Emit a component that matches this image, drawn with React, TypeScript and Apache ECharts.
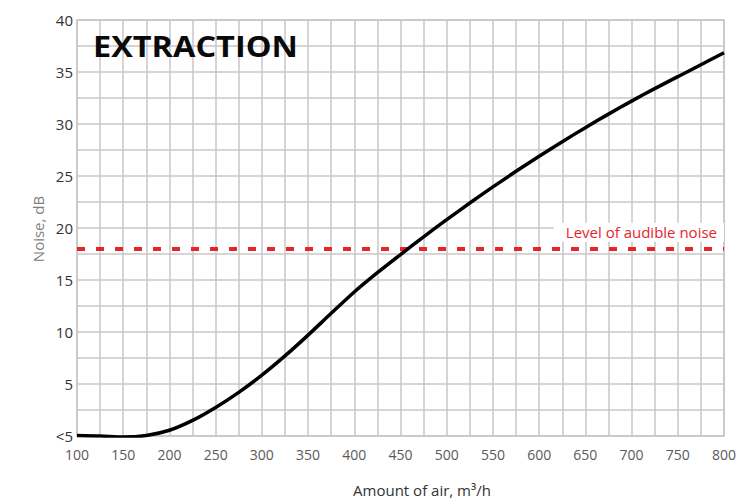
import React, { useEffect, useRef } from "react";
import * as echarts from "echarts";

const airflow = [100, 125, 150, 175, 200, 225, 250, 275, 300, 325, 350, 375, 400, 425, 450, 475, 500, 525, 550, 575, 600, 625, 650, 675, 700, 725, 750, 775, 800];
const noise = [0.05, 0, -0.1, 0.05, 0.55, 1.5, 2.75, 4.2, 5.85, 7.7, 9.7, 11.8, 13.85, 15.7, 17.45, 19.15, 20.8, 22.4, 23.95, 25.45, 26.9, 28.3, 29.65, 30.95, 32.2, 33.4, 34.55, 35.7, 36.85];
const audibleLevel = 18;
const audibleLabel = "Level of audible noise";
const title = "EXTRACTION";
const xName = "Amount of air, m³/h";
const yName = "Noise, dB";
const bottomLabel = "<5";

const FONT = "'Open Sans', 'Noto Sans', sans-serif";
const GRID = "#c9c6c6";
const RED = "#e52629";

export default function App() {
  const ref = useRef<HTMLDivElement>(null);
  useEffect(() => {
    if (!ref.current) return;
    const chart = echarts.init(ref.current, undefined, { renderer: "svg" });
    const curve = airflow.map((x, i) => [x, noise[i]]);
    chart.setOption({
      animation: false,
      backgroundColor: "#fff",
      textStyle: { fontFamily: FONT },
      grid: {
        left: 77,
        right: 29,
        top: 20,
        bottom: 64,
        show: true,
        borderColor: GRID,
        borderWidth: 1.5,
      },
      xAxis: {
        type: "value",
        min: 100,
        max: 800,
        interval: 25,
        axisLine: { show: false },
        axisTick: { show: false },
        splitLine: { show: true, lineStyle: { color: GRID, width: 1.5 } },
        axisLabel: {
          color: "#5a5a5a",
          fontSize: 14,
          fontFamily: FONT,
          margin: 11,
          showMinLabel: true,
          showMaxLabel: true,
          formatter: (v: number) => (v % 50 === 0 ? String(v) : ""),
        },
      },
      yAxis: {
        type: "value",
        min: 0,
        max: 40,
        interval: 2.5,
        axisLine: { show: false },
        axisTick: { show: false },
        splitLine: { show: true, lineStyle: { color: GRID, width: 1.5 } },
        axisLabel: {
          color: "#333",
          fontSize: 15,
          fontFamily: FONT,
          margin: 4,
          formatter: (v: number) => (v === 0 ? bottomLabel : v % 5 === 0 ? String(v) : ""),
        },
      },
      series: [
        {
          type: "line",
          data: curve,
          smooth: 0.3,
          symbol: "none",
          z: 3,
          lineStyle: { color: "#000", width: 3.5 },
          markLine: {
            symbol: "none",
            silent: true,
            z: 2,
            lineStyle: { color: RED, width: 4, type: [8, 11] },
            data: [{ yAxis: audibleLevel }],
            label: {
              show: true,
              position: "insideEndTop",
              formatter: audibleLabel,
              color: RED,
              fontSize: 15,
              fontFamily: FONT,
              backgroundColor: "#fff",
              padding: [2, 7, 2, 12],
              distance: [0, 7],
            },
          },
        },
      ],
      graphic: [
        {
          type: "text",
          x: 93,
          y: 46,
          scaleX: 1.12,
          z: 10,
          style: {
            text: title,
            fontFamily: FONT,
            fontWeight: "bold",
            fontSize: 29,
            fill: "#0a0a0a",
            textAlign: "left",
            textVerticalAlign: "middle",
          },
        },
        {
          type: "text",
          x: 422,
          y: 490,
          style: {
            text: xName,
            fontFamily: FONT,
            fontSize: 15,
            fill: "#333",
            textAlign: "center",
            textVerticalAlign: "middle",
          },
        },
        {
          type: "text",
          x: 38,
          y: 229,
          rotation: Math.PI / 2,
          style: {
            text: yName,
            fontFamily: FONT,
            fontSize: 15,
            fill: "#808080",
            textAlign: "center",
            textVerticalAlign: "middle",
          },
        },
      ],
    });
    return () => chart.dispose();
  }, []);
  return <div ref={ref} style={{ position: "fixed", left: 0, top: 0, width: 753, height: 500 }} />;
}
